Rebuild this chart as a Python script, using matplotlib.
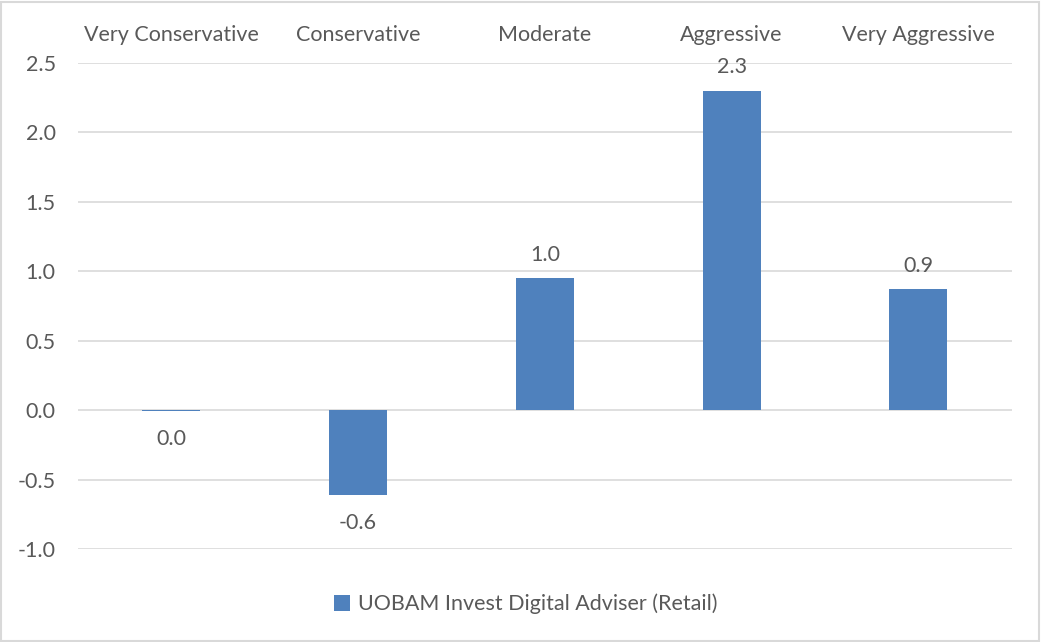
import matplotlib.pyplot as plt
from matplotlib.patches import Rectangle

categories = ["Very Conservative", "Conservative", "Moderate", "Aggressive", "Very Aggressive"]
values = [-0.007, -0.61, 0.95, 2.30, 0.87]
labels = ["0.0", "-0.6", "1.0", "2.3", "0.9"]
series_name = "UOBAM Invest Digital Adviser (Retail)"
yticks = [-1.0, -0.5, 0.0, 0.5, 1.0, 1.5, 2.0, 2.5]

plt.rcParams['font.family'] = ['Lato', 'DejaVu Sans']
txt = '#595959'
bar_color = '#4f81bd'
fs = 15.5

fig = plt.figure(figsize=(10.41, 6.42), dpi=100)
ax = fig.add_axes([0.0749, 0.1449, 0.897, 0.757])

x = range(len(categories))
bars = ax.bar(x, values, width=0.31, color=bar_color, label=series_name, zorder=3)

ax.set_xlim(-0.5, len(categories) - 0.5)
ax.set_ylim(-1.0, 2.5)
ax.set_yticks(yticks)
ax.set_yticklabels([f"{v:.1f}" for v in yticks])
ax.yaxis.grid(True, color='#d9d9d9', linewidth=1.2, zorder=0)
ax.tick_params(axis='y', length=0, pad=16, labelsize=fs, labelcolor=txt)

ax.xaxis.tick_top()
ax.set_xticks(list(x))
ax.set_xticklabels(categories)
ax.tick_params(axis='x', length=0, pad=13, labelsize=fs, labelcolor=txt)

for s in ax.spines.values():
    s.set_visible(False)

for xi, v, lab in zip(x, values, labels):
    off = 17 if v >= 0 else -20
    ax.annotate(lab, (xi, v), xytext=(0, off), textcoords='offset points',
                ha='center', va='center', fontsize=fs, color=txt)

leg = fig.legend(loc='center', bbox_to_anchor=(0.505, 0.059), frameon=False,
                 fontsize=fs, handlelength=0.75, handleheight=0.75, handletextpad=0.35)
for t in leg.get_texts():
    t.set_color(txt)

fig.patches.append(Rectangle((0.001, 0.002), 0.997, 0.995, transform=fig.transFigure,
                             fill=False, edgecolor='#d9d9d9', linewidth=1.5))

fig.savefig("out.png", dpi=100)
